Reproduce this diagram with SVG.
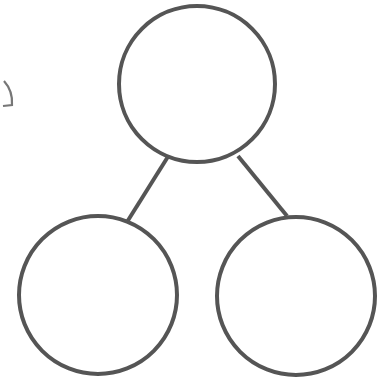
<svg xmlns="http://www.w3.org/2000/svg" width="380" height="377" viewBox="0 0 380 377">
<style>
.node{fill:#fff;stroke:#555;stroke-width:4}
.edge{stroke:#555;stroke-width:4;fill:none}
</style>
<rect width="380" height="377" fill="#fff"/>
<path d="M4,81 Q13,91 12,105 L3,106" fill="none" stroke="#777" stroke-width="2.2"/>
<g id="connectors">
<line class="edge" x1="169" y1="155" x2="127" y2="222"/>
<line class="edge" x1="238" y1="156" x2="287" y2="216"/>
</g>
<g id="node-top"><circle class="node" cx="197" cy="84" r="78"/></g>
<g id="node-left"><circle class="node" cx="98" cy="295" r="79"/></g>
<g id="node-right"><circle class="node" cx="296" cy="296" r="79"/></g>
</svg>
